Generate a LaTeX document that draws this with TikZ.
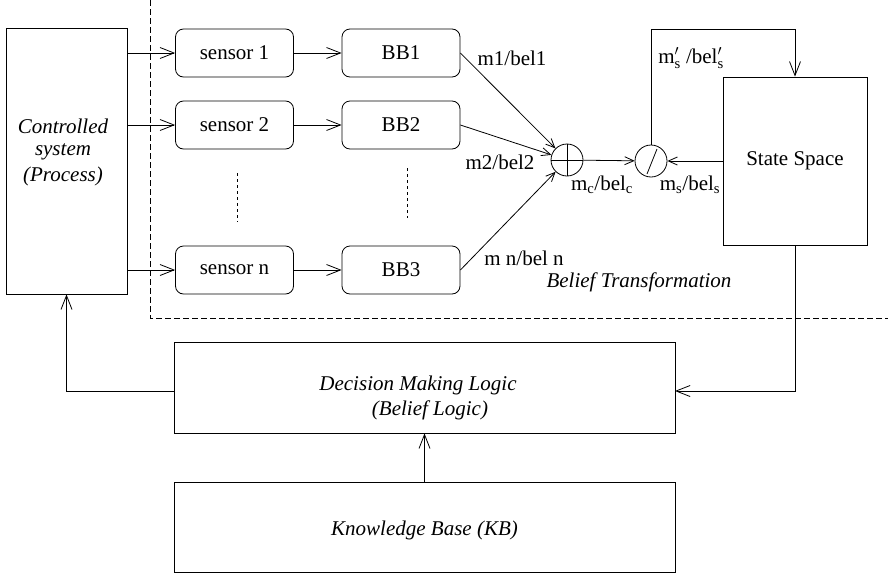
\documentclass[tikz,border=0pt]{standalone}
\usepackage{fontspec}
\setmainfont{Liberation Serif}
\usetikzlibrary{arrows.meta}
\begin{document}
\begin{tikzpicture}[x=1pt,y=-1pt, line width=0.8pt,
  font=\fontsize{21}{24}\selectfont,
  arr/.style={-{Straight Barb[length=14pt,width=11pt]}},
  sarr/.style={-{Straight Barb[length=9pt,width=8pt]}},
  rbox/.style={draw, rounded corners=8pt, minimum width=118pt, minimum height=48pt, inner sep=0pt},
  sbox/.style={draw, inner sep=0pt},
  lbl/.style={inner sep=0pt},
  itl/.style={inner sep=0pt, font=\fontsize{21}{24}\selectfont\itshape},
  circ/.style={draw, circle, minimum size=32pt, inner sep=0pt},
  frame/.style={dash pattern=on 6pt off 3pt},
  dots/.style={dash pattern=on 3pt off 3pt}]
\useasboundingbox (0,0) rectangle (888,573);

% frame of the belief transformation
\draw[frame] (150,0) -- (150,318) -- (888,318);

% controlled system
\node[sbox, minimum width=121pt, minimum height=266pt] (cs) at (66.5,161) {};
\node[itl, align=center] (cst) at (63,152) {Controlled\\[-2pt]system\\[2pt](Process)};

% sensors and basic beliefs
\node[rbox] (s1) at (234.5,53) {sensor 1};
\node[rbox] (s2) at (234.5,125) {sensor 2};
\node[rbox] (sn) at (234.5,270) {sensor n};
\node[rbox] (b1) at (401,53) {BB1};
\node[rbox] (b2) at (401,125) {BB2};
\node[rbox] (b3) at (401,270) {BB3};
\draw[dots] (237,173) -- (237,222);
\draw[dots] (407,168) -- (407,218);

% combination and update
\node[circ] (op) at (567,160) {};
\draw (op.north) -- (op.south) (op.west) -- (op.east);
\node[circ] (sl) at (651,161) {};
\draw ([shift={(-4,13)}]sl.center) -- ([shift={(6,-12)}]sl.center);

\node[sbox, minimum width=144pt, minimum height=168pt] (ss) at (795,161) {State Space};

% decision and knowledge
\node[sbox, minimum width=501pt, minimum height=91pt] (dm) at (424.5,387.5) {};
\node[itl] (dmt1) at (418,385) {Decision Making Logic};
\node[itl] (dmt2) at (430,410) {(Belief Logic)};
\node[sbox, minimum width=501pt, minimum height=90pt] (kb) at (424.5,527) {};
\node[itl] (kbt) at (424.5,530) {Knowledge Base (KB)};

% labels
\node[lbl] (l1) at (512,58) {m1/bel1};
\node[lbl] (l2) at (500,162) {m2/bel2};
\node[lbl] (l3) at (524,258) {m n/bel n};
\node[lbl] (lc) at (602,185) {m\textsubscript{c}/bel\textsubscript{c}};
\node[lbl] (ls) at (690,185) {m\textsubscript{s}/bel\textsubscript{s}};
\node[lbl] (lsp) at (691,58) {m$'_{\mathrm{s}}$ /bel$'_{\mathrm{s}}$};
\node[itl] (bt) at (639,282) {Belief Transformation};

% connectors
\draw[arr] (cs.east |- s1) -- (s1.west);
\draw[arr] (cs.east |- s2) -- (s2.west);
\draw[arr] (cs.east |- sn) -- (sn.west);
\draw[arr] (s1) -- (b1);
\draw[arr] (s2) -- (b2);
\draw[arr] (sn) -- (b3);
\draw[sarr] (b1.east) -- (op);
\draw[sarr] (b2.east) -- (op);
\draw[sarr] (b3.east) -- (op);
\draw[sarr] (op) -- (sl);
\draw[sarr] (ss.west |- sl) -- (sl);
\coordinate (tp) at (795,29);
\draw[arr] (sl.north) |- (tp) -- (ss.north);
\coordinate (fr) at (675,391);
\draw[arr] (ss.south) |- (fr);
\draw[arr] (dm.west |- fr) -| (cs.south);
\draw[arr] (kb.north) -- (dm.south);
\end{tikzpicture}
\end{document}
